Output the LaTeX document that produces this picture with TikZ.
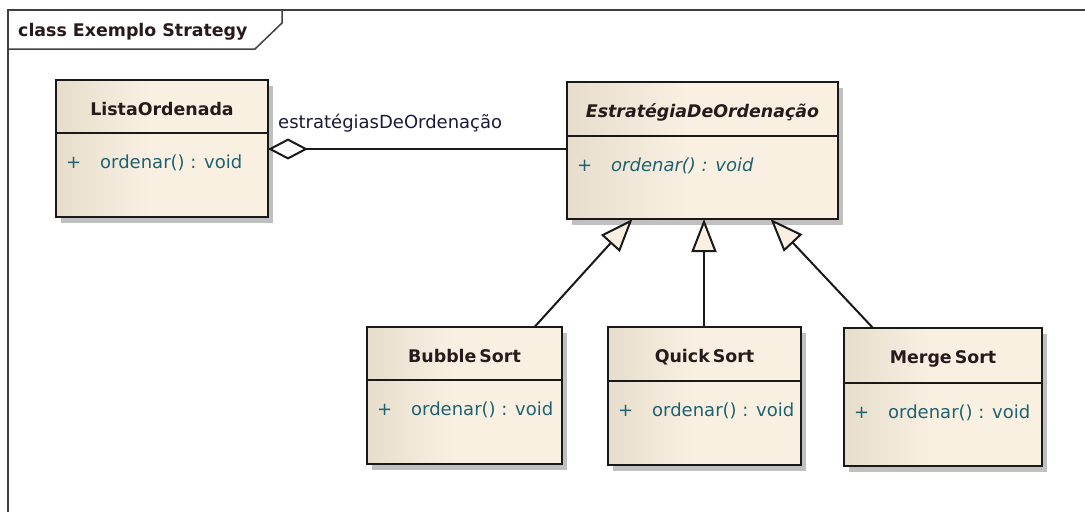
\documentclass[tikz,border=0pt]{standalone}
\usepackage{fontspec}
\setmainfont{DejaVu Sans}
\usetikzlibrary{arrows.meta,shadows}

\definecolor{classdark}{RGB}{230,221,204}
\definecolor{classlight}{RGB}{250,240,226}
\definecolor{titleink}{RGB}{40,26,26}
\definecolor{memberink}{RGB}{30,98,114}
\definecolor{labelink}{RGB}{26,26,58}
\definecolor{frameink}{RGB}{64,64,64}
\definecolor{shadowgray}{RGB}{192,192,192}

% left-to-right fill: darker band on the left, flat cream from ~45% on
\pgfdeclarehorizontalshading{classfill}{100bp}{%
  color(0bp)=(classdark); color(25bp)=(classdark);
  color(47bp)=(classlight); color(100bp)=(classlight)}

\tikzset{
  classbox/.style={draw=black!90, line width=1.8pt, shade, shading=classfill,
    drop shadow={shadow xshift=5pt, shadow yshift=-6pt, fill=shadowgray, opacity=1},
    inner sep=0pt, outer sep=0pt},
  classline/.style={draw=black!90, line width=1.8pt},
  classtitle/.style={inner sep=0pt, text=titleink,
    font=\fontsize{17.4}{20}\selectfont\bfseries},
  member/.style={inner sep=0pt, text=memberink, font=\fontsize{18}{21}\selectfont},
  rolelabel/.style={inner sep=0pt, text=labelink, font=\fontsize{18}{21}\selectfont},
  frametitle/.style={inner sep=0pt, text=titleink,
    font=\fontsize{17.4}{20}\selectfont\bfseries},
  frameline/.style={draw=frameink, line width=1.5pt},
  gen/.style={draw=black!90, line width=2pt,
    -{Triangle[length=33pt, width=25pt, fill=classlight, line join=miter]}},
  agg/.style={draw=black!90, line width=2pt,
    {Diamond[length=40pt, width=21pt, fill=white]}-},
}

% #1 name, #2 left, #3 top, #4 width, #5 height, #6 header height, #7 title, #8 operation
\newcommand\umlclass[8]{%
  \node[classbox, anchor=north west, minimum width=#4pt, minimum height=#5pt] (#1) at (#2,#3) {};
  \draw[classline] ([yshift=-#6pt]#1.north west) -- ([yshift=-#6pt]#1.north east);
  \node[classtitle, anchor=base] (#1-title) at ([yshift=-35pt]#1.north) {#7};
  \node[member, anchor=base west] (#1-vis) at ([xshift=10pt, yshift=-#6pt-35pt]#1.north west) {+};
  \node[member, anchor=base west] (#1-op) at ([xshift=44pt, yshift=-#6pt-35pt]#1.north west) {#8};
}

\begin{document}
\begin{tikzpicture}[x=1pt, y=-1pt]
  \useasboundingbox (0,0) rectangle (1085,512);

  % package frame with its name tab
  \draw[frameline] (8,512) -- (8,10) -- (1085,10);
  \draw[frameline] (8,49) -- (255,49) -- (282,23) -- (282,10);
  \node[frametitle, anchor=base west] (frame-title) at (18,36) {class Exemplo Strategy};

  % classes
  \umlclass{lista}{56}{80}{212}{137}{53}{ListaOrdenada}{ordenar() : void}
  \umlclass{strat}{567}{82}{271}{137}{54}{\itshape EstratégiaDeOrdenação}{\itshape ordenar() : void}
  \umlclass{bubble}{367}{327}{195}{137}{53}{Bubble\kern3pt Sort}{ordenar() : void}
  \umlclass{quick}{608}{327}{193}{138}{54}{Quick\kern3pt Sort}{ordenar() : void}
  \umlclass{merge}{844}{328}{198}{138}{55}{Merge\kern3pt Sort}{ordenar() : void}

  % aggregation
  \coordinate (agg-start) at ([yshift=-0.5pt]lista.east);
  \draw[agg] (agg-start) -- (agg-start -| strat.west);
  \node[rolelabel, anchor=base west] (role) at ([xshift=10pt, yshift=20pt]lista.east) {estratégiasDeOrdenação};

  % generalizations
  \draw[gen] ([xshift=70pt]bubble.north) -- ([xshift=-70pt]strat.south);
  \coordinate (quick-top) at ([xshift=-0.5pt]quick.north);
  \draw[gen] (quick-top) -- (quick-top |- strat.south);
  \draw[gen] ([xshift=-70pt]merge.north) -- ([xshift=68pt]strat.south);
\end{tikzpicture}
\end{document}
